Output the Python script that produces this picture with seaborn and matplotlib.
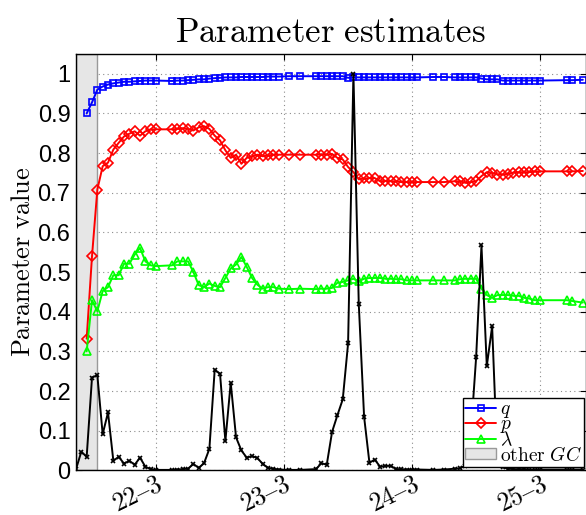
import numpy as np
import pandas as pd
import matplotlib
matplotlib.use("Agg")
import matplotlib.pyplot as plt
import matplotlib.transforms as mtransforms
from matplotlib.lines import Line2D
from matplotlib.patches import Patch
import seaborn as sns

# ---------------- data (hours relative to 22-3 00:00) ----------------
hours = [-13, -12, -11, -10, -9, -8, -7, -6, -5, -4, -3, -2, -1, 0,
         3, 4, 5, 6, 7, 8, 9, 10, 11, 12, 13, 14, 15, 16, 17, 18, 19, 20, 21, 22, 23,
         25, 27,
         30, 31, 32, 33, 34, 35, 36, 37, 38, 39, 40, 41, 42, 43, 44, 45, 46, 47, 48, 49,
         52, 54,
         56, 57, 58, 59, 60, 61, 62, 63, 64, 65, 66, 67, 68, 69, 70, 71, 72,
         77, 78, 80]

q_vals = [0.900, 0.928, 0.960, 0.968, 0.973, 0.976, 0.978, 0.980, 0.980, 0.981, 0.982, 0.983, 0.983, 0.983,
          0.982, 0.983, 0.983, 0.984, 0.985, 0.986, 0.986, 0.988, 0.989, 0.990, 0.991, 0.991, 0.991, 0.992,
          0.992, 0.992, 0.992, 0.992, 0.993, 0.993, 0.993,
          0.994, 0.994,
          0.994, 0.994, 0.994, 0.994, 0.994, 0.994, 0.990, 0.991, 0.991, 0.991, 0.991, 0.991, 0.991, 0.991,
          0.991, 0.991, 0.991, 0.991, 0.991, 0.991,
          0.992, 0.992,
          0.991, 0.991, 0.991, 0.991, 0.991, 0.988, 0.986, 0.986, 0.986, 0.983, 0.983, 0.983, 0.983, 0.983,
          0.983, 0.983, 0.983,
          0.984, 0.984, 0.985]

p_vals = [0.332, 0.540, 0.708, 0.767, 0.776, 0.809, 0.826, 0.842, 0.849, 0.855, 0.844, 0.855, 0.860, 0.860,
          0.860, 0.861, 0.863, 0.861, 0.857, 0.865, 0.868, 0.861, 0.844, 0.832, 0.807, 0.788, 0.796, 0.773,
          0.788, 0.792, 0.796, 0.792, 0.794, 0.796, 0.796,
          0.796, 0.796,
          0.796, 0.796, 0.796, 0.798, 0.788, 0.784, 0.765, 0.752, 0.734, 0.736, 0.737, 0.737, 0.729, 0.730,
          0.729, 0.729, 0.727, 0.727, 0.727, 0.727,
          0.727, 0.727,
          0.729, 0.729, 0.725, 0.727, 0.729, 0.742, 0.752, 0.750, 0.746, 0.746, 0.748, 0.751, 0.752, 0.752,
          0.752, 0.754, 0.754,
          0.754, 0.754, 0.755]

lam_vals = [0.300, 0.429, 0.401, 0.452, 0.462, 0.492, 0.492, 0.521, 0.521, 0.544, 0.561, 0.527, 0.517, 0.515,
            0.517, 0.527, 0.527, 0.527, 0.500, 0.467, 0.462, 0.471, 0.465, 0.462, 0.485, 0.509, 0.519, 0.538,
            0.513, 0.485, 0.468, 0.458, 0.462, 0.462, 0.458,
            0.457, 0.458,
            0.457, 0.458, 0.458, 0.460, 0.473, 0.475, 0.479, 0.483, 0.477, 0.483, 0.485, 0.485, 0.485, 0.483,
            0.483, 0.482, 0.482, 0.479, 0.479, 0.479,
            0.479, 0.479,
            0.479, 0.482, 0.483, 0.483, 0.483, 0.458, 0.442, 0.435, 0.442, 0.442, 0.442, 0.440, 0.440, 0.435,
            0.433, 0.429, 0.429,
            0.429, 0.427, 0.423]

gc_hours = [-15, -14] + hours
gc_vals = [0.003, 0.047,
           0.034, 0.234, 0.240, 0.091, 0.146, 0.024, 0.034, 0.017, 0.024, 0.014, 0.032, 0.009, 0.003, 0.001,
           0.001, 0.002, 0.003, 0.004, 0.016, 0.006, 0.018, 0.054, 0.254, 0.243, 0.074, 0.221, 0.083, 0.050,
           0.032, 0.036, 0.031, 0.016, 0.006, 0.004, 0.002,
           0.001, 0.001,
           0.003, 0.018, 0.014, 0.097, 0.139, 0.179, 0.320, 1.000, 0.420, 0.135, 0.019, 0.027, 0.009, 0.011,
           0.011, 0.003, 0.003, 0.002, 0.002, 0.002,
           0.001, 0.002,
           0.004, 0.005, 0.012, 0.090, 0.285, 0.567, 0.263, 0.363, 0.020, 0.008, 0.004, 0.003, 0.003, 0.003,
           0.002, 0.002, 0.002,
           0.002, 0.002, 0.002]

shade_start, shade_end = -15, -11
day_ticks = [0, 24, 48, 72]
day_labels = ["22", "23", "24", "25"]
month = "3"
y_ticks = [0, 0.1, 0.2, 0.3, 0.4, 0.5, 0.6, 0.7, 0.8, 0.9, 1.0]
y_tick_labels = ["0", "0.1", "0.2", "0.3", "0.4", "0.5", "0.6", "0.7", "0.8", "0.9", "1"]

# ---------------- style ----------------
sns.set_style("ticks")
plt.rcParams["mathtext.fontset"] = "cm"
plt.rcParams["font.family"] = ["Liberation Sans", "DejaVu Sans"]
for k in ["text.color", "axes.labelcolor", "xtick.color", "ytick.color"]:
    plt.rcParams[k] = "black"

W, H = 586, 515
fig = plt.figure(figsize=(W / 100, H / 100), dpi=100)
ax = fig.add_axes([76 / W, (H - 470.3) / H, (585.5 - 76) / W, (470.3 - 54) / H])

ax.axvspan(shade_start, shade_end, facecolor=(0.9, 0.9, 0.9), edgecolor=(0.6, 0.6, 0.6),
           linewidth=1.0, zorder=1)

df = pd.DataFrame({"hour": hours, "q": q_vals, "p": p_vals, "lam": lam_vals})
dg = pd.DataFrame({"hour": gc_hours, "gc": gc_vals})

LW = 1.4
common = dict(linewidth=LW, markerfacecolor="none", markeredgewidth=1.2, legend=False, ax=ax)
sns.lineplot(data=df, x="hour", y="q", color="#0000ff", marker="s", markersize=4.6,
             markeredgecolor="#0000ff", zorder=3, **common)
sns.lineplot(data=df, x="hour", y="p", color="#ff0000", marker="D", markersize=4.6,
             markeredgecolor="#ff0000", zorder=3, **common)
sns.lineplot(data=df, x="hour", y="lam", color="#00ff00", marker="^", markersize=5.8,
             markeredgecolor="#00ff00", zorder=3, **common)
sns.lineplot(data=dg, x="hour", y="gc", color="black", marker="x", markersize=3.5,
             markeredgecolor="black", zorder=4, **common)

ax.set_xlim(-15, 80.5)
ax.set_ylim(0, 1.05)

ax.set_yticks(y_ticks)
ax.set_yticklabels(y_tick_labels, fontsize=17)
ax.set_xticks(day_ticks)
ax.set_xticklabels([r"$%s–%s$" % (d, month) for d in day_labels], fontsize=18.5,
                   rotation=26, ha="right", va="top", rotation_mode="anchor")
shift = mtransforms.ScaledTranslation(-5 / 100, 0, fig.dpi_scale_trans)
for lbl in ax.get_xticklabels():
    lbl.set_transform(lbl.get_transform() + shift)

ax.tick_params(direction="in", length=4, width=0.8, top=True, right=True, pad=4)
ax.tick_params(axis="x", pad=1)
for s in ax.spines.values():
    s.set_linewidth(1.0)
    s.set_color("black")
    s.set_zorder(6)

ax.set_axisbelow(True)
ax.grid(True, color=(0.55, 0.55, 0.55), linestyle=(0, (1, 3)), linewidth=0.8)

ax.set_xlabel("")
ax.set_ylabel(r"$\mathrm{Parameter\ value}$", fontsize=19, labelpad=2)
ax.set_title(r"$\mathrm{Parameter\ estimates}$", fontsize=25, pad=9)

handles = [
    Line2D([], [], color="#0000ff", marker="s", markersize=4.6, markerfacecolor="none", linewidth=LW,
           markeredgewidth=1.2),
    Line2D([], [], color="#ff0000", marker="D", markersize=4.6, markerfacecolor="none", linewidth=LW,
           markeredgewidth=1.2),
    Line2D([], [], color="#00ff00", marker="^", markersize=5.8, markerfacecolor="none", linewidth=LW,
           markeredgewidth=1.2),
    Patch(facecolor=(0.9, 0.9, 0.9), edgecolor=(0.6, 0.6, 0.6)),
]
labels = [r"$q$", r"$p$", r"$\lambda$", r"$\mathrm{other}\ GC$"]
leg = ax.legend(handles, labels, loc="lower right", bbox_to_anchor=(0.998, 0.008), borderaxespad=0,
                fontsize=14, frameon=True, fancybox=False, edgecolor="black", framealpha=1,
                handlelength=1.6, handleheight=0.5, handletextpad=0.2, labelspacing=-0.2, borderpad=0.12)
leg.get_frame().set_linewidth(1.0)
leg.set_zorder(10)

fig.savefig("out.png", dpi=100)
